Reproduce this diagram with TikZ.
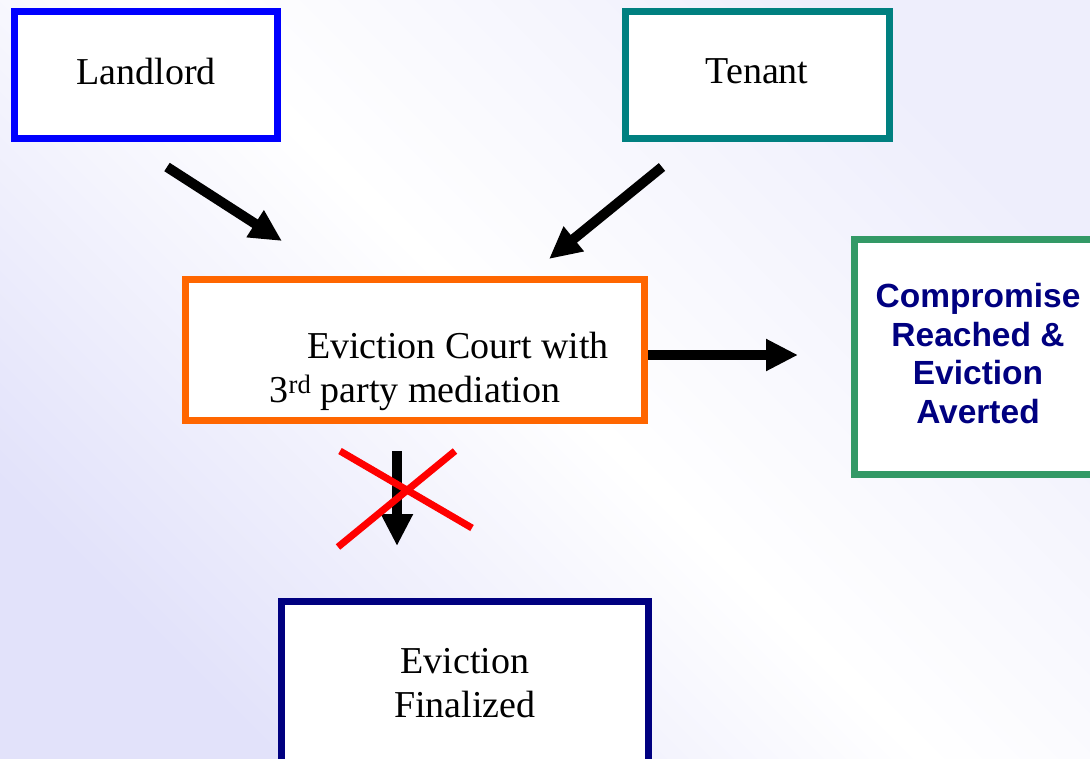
\documentclass[tikz,border=0pt]{standalone}
\usepackage{fontspec}
\setmainfont{Liberation Serif}
\newfontfamily\boldsans{Liberation Sans}
\usetikzlibrary{arrows.meta}

\definecolor{lavender}{RGB}{226,226,250}
\definecolor{lightlavender}{RGB}{238,238,252}
\definecolor{tealbox}{RGB}{0,128,128}
\definecolor{orangebox}{RGB}{255,102,0}
\definecolor{greenbox}{RGB}{51,153,102}
\definecolor{navybox}{RGB}{0,0,128}

\begin{document}
\begin{tikzpicture}[x=1pt, y=-1pt,
    box/.style={draw, fill=white, line width=7pt, inner sep=0pt, font=\fontsize{38}{44}\selectfont, align=center},
    bigarrow/.style={line width=10pt, -{Triangle[length=32pt,width=30pt]}},
    crossline/.style={red, line width=7pt}]
		    \clip (0,0) rectangle (1090,758);
		    \shade[left color=lavender, right color=lightlavender, middle color=white, shading angle=135] (0,0) rectangle (1090,758);

		    \begin{scope}
					\node[box, draw=blue, minimum width=263pt, minimum height=127pt, text depth=8pt] (landlord) at (146,75) {Landlord};
					\node[box, draw=tealbox, minimum width=264pt, minimum height=127pt, text depth=8pt] (tenant) at (757,75) {Tenant};
					\node[box, draw=orangebox, minimum width=459pt, minimum height=141pt] (court) at (415,350) {};
					\node[font=\fontsize{38}{44}\selectfont, align=center] (courttext) at (415,371) {\hspace*{86pt}Eviction Court with\\3\textsuperscript{rd} party mediation};
					\node[box, draw=greenbox, minimum width=248pt, minimum height=235pt, text=navybox, font=\boldsans\bfseries\fontsize{33.5}{38.7}\selectfont] (compromise) at (978,357) {Compromise\\Reached \&\\Eviction\\Averted\vspace*{7pt}};
					\node[box, draw=navybox, minimum width=367pt, minimum height=163pt] (finalized) at (465,683) {Eviction\\Finalized};

					\coordinate (l1) at (167,167); \coordinate (l2) at (282,241);
					\coordinate (t1) at (662,167); \coordinate (t2) at (549,259);
					\coordinate (r1) at (court.east); \coordinate (r2) at (798,355);
					\coordinate (d1) at (397,451); \coordinate (d2) at (397,546);

					\draw[bigarrow] (l1) -- (l2); % landlord to court
					\draw[bigarrow] (t1) -- (t2); % tenant to court
					\draw[bigarrow] (r1 |- r2) -- (r2); % court to compromise
					\draw[bigarrow] (d1) -- (d2); % court to finalized

					\coordinate (x1) at (338,547); \coordinate (x2) at (455,451);
					\coordinate (x3) at (340,451); \coordinate (x4) at (472,528);
					\draw[crossline] (x1) -- (x2);
					\draw[crossline] (x3) -- (x4);
		    \end{scope}
\end{tikzpicture}
\end{document}
